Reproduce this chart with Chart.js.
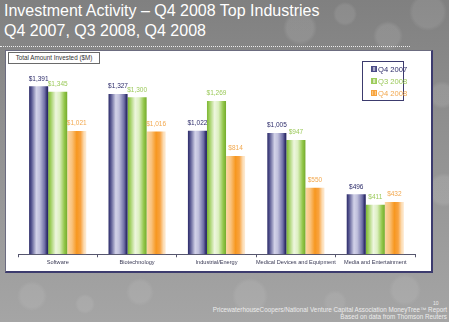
<!DOCTYPE html>
<html>
<head>
<meta charset="utf-8">
<script src="https://cdn.jsdelivr.net/npm/chart.js@4/dist/chart.umd.min.js"></script>
<style>
  html, body { margin: 0; padding: 0; }
  body {
    width: 449px; height: 322px; position: relative; overflow: hidden;
    font-family: "Liberation Sans", Arial, sans-serif;
    background:
      radial-gradient(circle at 300px 28px, rgba(255,255,255,0.10) 0 13px, transparent 17px),
      radial-gradient(circle at 345px 14px, rgba(255,255,255,0.09) 0 9px, transparent 12px),
      radial-gradient(circle at 388px 36px, rgba(255,255,255,0.10) 0 11px, transparent 15px),
      radial-gradient(circle at 428px 12px, rgba(255,255,255,0.09) 0 15px, transparent 19px),
      radial-gradient(circle at 442px 95px, rgba(255,255,255,0.10) 0 10px, transparent 14px),
      radial-gradient(circle at 444px 190px, rgba(255,255,255,0.10) 0 13px, transparent 17px),
      radial-gradient(circle at 32px 296px, rgba(255,255,255,0.08) 0 11px, transparent 15px),
      radial-gradient(circle at 85px 304px, rgba(255,255,255,0.08) 0 7px, transparent 10px),
      radial-gradient(circle at 140px 292px, rgba(255,255,255,0.08) 0 10px, transparent 14px),
      radial-gradient(circle at 250px 296px, rgba(255,255,255,0.08) 0 14px, transparent 18px),
      radial-gradient(circle at 335px 302px, rgba(255,255,255,0.07) 0 8px, transparent 12px),
      radial-gradient(circle at 405px 290px, rgba(255,255,255,0.08) 0 12px, transparent 16px),
      linear-gradient(180deg, #808080 0%, #909090 40%, #a5a5a5 100%);
  }
  #title {
    position: absolute; left: 4px; top: 1px;
    color: #ffffff; font-size: 16px; line-height: 19.5px; white-space: nowrap;
  }
  #rule {
    position: absolute; left: 0; top: 46px; width: 410px;
    border-top: 1px dotted rgba(255,255,255,0.85);
  }
  #panel {
    position: absolute; left: 5px; top: 50px; width: 425px; height: 220px;
    background: #ffffff;
    border-left: 1px solid #6c6c80; border-top: 1px solid #6c6c80;
    border-right: 2px solid #3c3b6e; border-bottom: 2px solid #3c3b6e;
  }
  #chart { position: absolute; left: 0; top: 0; }
  #ytitle {
    position: absolute; left: 2px; top: 1px; width: 90px; height: 10px;
    border: 1px solid #6a6a6a; background: #fff;
    font-size: 6.3px; line-height: 10px; color: #333; text-align: center; white-space: nowrap;
  }
  #legend {
    position: absolute; left: 356px; top: 10px; width: 42px; height: 40px;
    border: 1px solid #3c3b6e; background: #fff; padding-top: 2px; box-sizing: border-box;
  }
  .item { height: 12px; line-height: 12px; font-size: 7.6px; white-space: nowrap; padding-left: 8px; }
  .mark { display: inline-block; width: 4px; height: 4px; margin-right: 1px; vertical-align: 0px; }
  #footer {
    position: absolute; right: 2px; top: 306px; text-align: right;
    color: #ececec; font-size: 6.3px; line-height: 7px; white-space: nowrap;
  }
  #page {
    position: absolute; left: 433px; top: 300px; color: #ececec; font-size: 5px;
  }
</style>
</head>
<body>
<div id="title">Investment Activity – Q4 2008 Top Industries<br>Q4 2007, Q3 2008, Q4 2008</div>
<div id="rule"></div>
<div id="panel">
  <canvas id="chart" width="425" height="220"></canvas>
  <div id="ytitle">Total Amount Invested ($M)</div>
  <div id="legend"></div>
</div>
<div id="page">10</div>
<div id="footer">PricewaterhouseCoopers/National Venture Capital Association MoneyTree™ Report<br>Based on data from Thomson Reuters</div>

<script>
const categories = ["Software", "Biotechnology", "Industrial/Energy", "Medical Devices and Equipment", "Media and Entertainment"];
const seriesNames = ["Q4 2007", "Q3 2008", "Q4 2008"];
const q4_2007 = [1391, 1327, 1022, 1005, 496];
const q3_2008 = [1345, 1300, 1269, 947, 411];
const q4_2008 = [1021, 1016, 814, 550, 432];

const FONT = '"Liberation Sans", Arial, sans-serif';
const CAT_PCT = 0.72;

// horizontal gradient stops per series (left -> right)
const barStops = [
  [[0, "#2c2b68"], [0.12, "#55558f"], [0.38, "#d2d2e8"], [0.55, "#c0c0dc"], [0.82, "#6e6ea6"], [0.93, "#35346f"], [1, "#232260"]],
  [[0, "#7cb532"], [0.12, "#9ccd5a"], [0.4, "#eef6df"], [0.6, "#dcefc0"], [0.85, "#92c64a"], [1, "#74ab2c"]],
  [[0, "#fbd7a6"], [0.25, "#f9c27c"], [0.5, "#f7971f"], [0.7, "#f8a341"], [0.88, "#fcdcb3"], [1, "#fdebd4"]]
];
const labelColors = ["#2d2c6a", "#9bc95a", "#f2a84e"];
const solidColors = ["#4a4a88", "#9ccd5a", "#f7a23a"];

const barFill = (ctx) => {
  const chart = ctx.chart;
  const xs = chart.scales && chart.scales.x;
  const si = ctx.datasetIndex;
  if (!chart.chartArea || !xs || ctx.dataIndex === undefined) return solidColors[si];
  const cat = xs.width / categories.length;
  const slot = cat * CAT_PCT / seriesNames.length;
  const left = xs.getPixelForValue(ctx.dataIndex) - cat * CAT_PCT / 2 + slot * si;
  if (!isFinite(left) || !isFinite(slot) || slot <= 0) return solidColors[si];
  const g = chart.ctx.createLinearGradient(left, 0, left + slot, 0);
  barStops[si].forEach(([o, c]) => g.addColorStop(o, c));
  return g;
};

const valueLabels = {
  id: "valueLabels",
  afterDatasetsDraw(chart) {
    const c = chart.ctx;
    c.save();
    c.font = `6.5px ${FONT}`;
    c.textAlign = "center";
    c.textBaseline = "middle";
    chart.data.datasets.forEach((ds, i) => {
      chart.getDatasetMeta(i).data.forEach((bar, j) => {
        c.fillStyle = labelColors[i];
        c.fillText("$" + ds.data[j].toLocaleString("en-US"), bar.x, bar.y - 7.5);
      });
    });
    c.restore();
  }
};

const seriesData = [q4_2007, q3_2008, q4_2008];

new Chart(document.getElementById("chart"), {
  type: "bar",
  data: {
    labels: categories,
    datasets: seriesNames.map((name, i) => ({
      label: name,
      data: seriesData[i],
      backgroundColor: barFill,
      borderWidth: 0,
      categoryPercentage: CAT_PCT,
      barPercentage: 1,
    })),
  },
  options: {
    responsive: false,
    animation: false,
    events: [],
    layout: { padding: { left: 12, right: 16, top: 10, bottom: 4 } },
    scales: {
      x: {
        offset: true,
        grid: { display: true, drawOnChartArea: false, drawTicks: true, tickLength: 3, color: "#56566e", offset: true },
        border: { display: true, color: "#56566e", width: 1 },
        ticks: { font: { size: 5.6, family: FONT }, color: "#3a3a55", padding: 1.5, maxRotation: 0, autoSkip: false },
      },
      y: { display: false, min: 0, max: 1600 },
    },
    plugins: {
      legend: { display: false },
      tooltip: { enabled: false },
    },
  },
  plugins: [valueLabels],
});

// html legend built from the series
const legend = document.getElementById("legend");
seriesNames.forEach((name, i) => {
  const s = barStops[i];
  const item = document.createElement("div");
  item.className = "item";
  item.style.color = labelColors[i];
  const mark = document.createElement("span");
  mark.className = "mark";
  mark.style.background = `linear-gradient(90deg, ${s[0][1]}, ${s[2][1]}, ${s[s.length - 2][1]})`;
  mark.style.border = `1px solid ${solidColors[i]}`;
  item.appendChild(mark);
  item.appendChild(document.createTextNode(name));
  legend.appendChild(item);
});
</script>
</body>
</html>
